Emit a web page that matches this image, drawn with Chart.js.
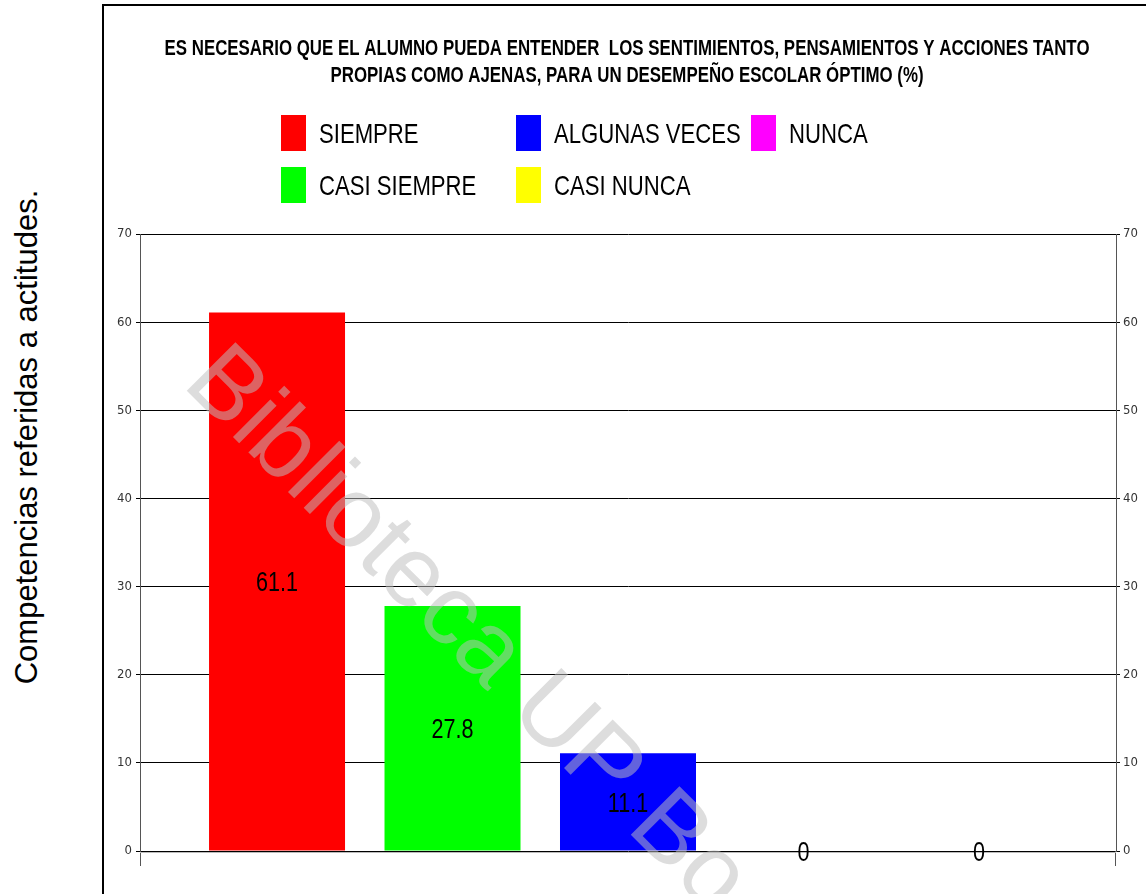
<!DOCTYPE html>
<html>
<head>
<meta charset="utf-8">
<script src="https://cdn.jsdelivr.net/npm/chart.js@4/dist/chart.umd.min.js"></script>
<style>
  html, body { margin:0; padding:0; background:#fff; width:1146px; height:894px; overflow:hidden; }
  #frame { position:absolute; left:102px; top:4px; width:1100px; height:900px; border-left:2px solid #000; border-top:2px solid #000; box-sizing:border-box; }
  #side { position:absolute; left:26px; top:437px; font-family:'Liberation Sans', Arial, sans-serif; font-size:31px; line-height:31px; white-space:nowrap; color:#000; transform:translate(-50%,-50%) rotate(-90deg); }
  #c { position:absolute; left:0; top:0; }
</style>
</head>
<body>
<div id="frame"></div>
<div id="side"></div>
<canvas id="c" width="1146" height="894"></canvas>
<script>
// ---- data ----
const categories = [''];
const seriesNames = ['SIEMPRE', 'CASI SIEMPRE', 'ALGUNAS VECES', 'CASI NUNCA', 'NUNCA'];
const seriesValues = [61.1, 27.8, 11.1, 0, 0];
const seriesColors = ['#ff0000', '#00ff00', '#0000ff', '#ffff00', '#ff00ff'];
const yTickLabels = ['0', '10', '20', '30', '40', '50', '60', '70'];
const titleLines = [
  'ES NECESARIO QUE EL ALUMNO PUEDA ENTENDER  LOS SENTIMIENTOS, PENSAMIENTOS Y ACCIONES TANTO',
  'PROPIAS COMO AJENAS, PARA UN DESEMPEÑO ESCOLAR ÓPTIMO (%)'
];
const sideLabel = 'Competencias referidas a actitudes.';
const watermark = 'Biblioteca UP Bo';

document.getElementById('side').textContent = sideLabel;

const FONT = "'Liberation Sans', Arial, sans-serif";
const NARROW = "'Liberation Sans Narrow', 'Arial Narrow', 'DejaVu Sans Condensed', sans-serif";

function squeezedText(ctx, text, x, y, font, sx, align) {
  ctx.save();
  ctx.font = font;
  ctx.translate(x, y);
  ctx.scale(sx, 1);
  ctx.textAlign = align;
  ctx.textBaseline = 'alphabetic';
  ctx.fillText(text, 0, 0);
  ctx.restore();
}

const decorPlugin = {
  id: 'decor',
  beforeDraw(chart) {
    const ctx = chart.ctx;
    // title
    const tFont = 'bold 22px ' + FONT;
    ctx.save();
    ctx.font = tFont;
    const sx = 925 / ctx.measureText(titleLines[0]).width;
    ctx.restore();
    ctx.fillStyle = '#000';
    squeezedText(ctx, titleLines[0], 627, 55, tFont, sx, 'center');
    squeezedText(ctx, titleLines[1], 627, 82, tFont, sx, 'center');
    // legend (column-major, 2 rows)
    const lFont = '28px ' + FONT;
    seriesNames.forEach((name, i) => {
      const col = Math.floor(i / 2), row = i % 2;
      const bx = 281 + col * 235;
      const by = row === 0 ? 115 : 167;
      ctx.fillStyle = seriesColors[i];
      ctx.fillRect(bx, by, 25, 36);
      ctx.fillStyle = '#000';
      squeezedText(ctx, name, bx + 38, by + 28, lFont, 0.79, 'left');
    });
  },
  afterDatasetsDraw(chart) {
    const ctx = chart.ctx;
    const a = chart.chartArea;
    // axis extensions below baseline
    ctx.save();
    ctx.strokeStyle = '#555';
    ctx.lineWidth = 1;
    ctx.beginPath();
    ctx.moveTo(a.left + 0.5, a.bottom); ctx.lineTo(a.left + 0.5, a.bottom + 15);
    ctx.moveTo(a.right - 0.5, a.bottom); ctx.lineTo(a.right - 0.5, a.bottom + 15);
    ctx.stroke();
    // soft shadow under the zero line
    ctx.strokeStyle = '#bbb';
    ctx.beginPath();
    ctx.moveTo(a.left, a.bottom + 1.5); ctx.lineTo(a.right, a.bottom + 1.5);
    ctx.stroke();
    ctx.restore();
    // data labels
    ctx.fillStyle = '#000';
    chart.data.datasets.forEach((ds, i) => {
      const bar = chart.getDatasetMeta(i).data[0];
      const y = (bar.y + bar.base) / 2;
      squeezedText(ctx, String(ds.data[0]), bar.x, y + 9.7, '27px ' + FONT, 0.8, 'center');
    });
  },
  afterDraw(chart) {
    const ctx = chart.ctx;
    ctx.save();
    ctx.translate(181, 385);
    ctx.rotate(Math.PI / 4);
    ctx.font = '100px ' + FONT;
    ctx.fillStyle = 'rgba(190,190,190,0.52)';
    ctx.textAlign = 'left';
    ctx.fillText(watermark, 0, 0);
    ctx.restore();
  }
};

const tickFont = { family: NARROW, size: 13 };

new Chart(document.getElementById('c'), {
  type: 'bar',
  data: {
    labels: categories,
    datasets: seriesNames.map((n, i) => ({
      label: n,
      data: [seriesValues[i]],
      backgroundColor: seriesColors[i],
      borderWidth: 0,
      categoryPercentage: 0.899,
      barPercentage: 0.775,
      yAxisID: 'y'
    }))
  },
  options: {
    responsive: false,
    animation: false,
    devicePixelRatio: 1,
    layout: { padding: { left: 100, right: 0, top: 234, bottom: 43 } },
    plugins: { legend: { display: false }, title: { display: false }, tooltip: { enabled: false } },
    scales: {
      x: { display: false },
      y: {
        position: 'left', min: 0, max: 70,
        ticks: { stepSize: 10, color: '#333', font: tickFont, padding: 4,
                 callback: (v, idx) => yTickLabels[idx] },
        grid: { color: '#000', lineWidth: 1, tickLength: 4 },
        border: { color: '#555', width: 1 },
        afterFit: s => { s.width = 40; }
      },
      y2: {
        position: 'right', min: 0, max: 70,
        ticks: { stepSize: 10, color: '#333', font: tickFont, padding: 3,
                 callback: (v, idx) => yTickLabels[idx] },
        grid: { drawOnChartArea: false, color: '#000', lineWidth: 1, tickLength: 4 },
        border: { color: '#555', width: 1 },
        afterFit: s => { s.width = 30; }
      }
    }
  },
  plugins: [decorPlugin]
});
</script>
</body>
</html>
